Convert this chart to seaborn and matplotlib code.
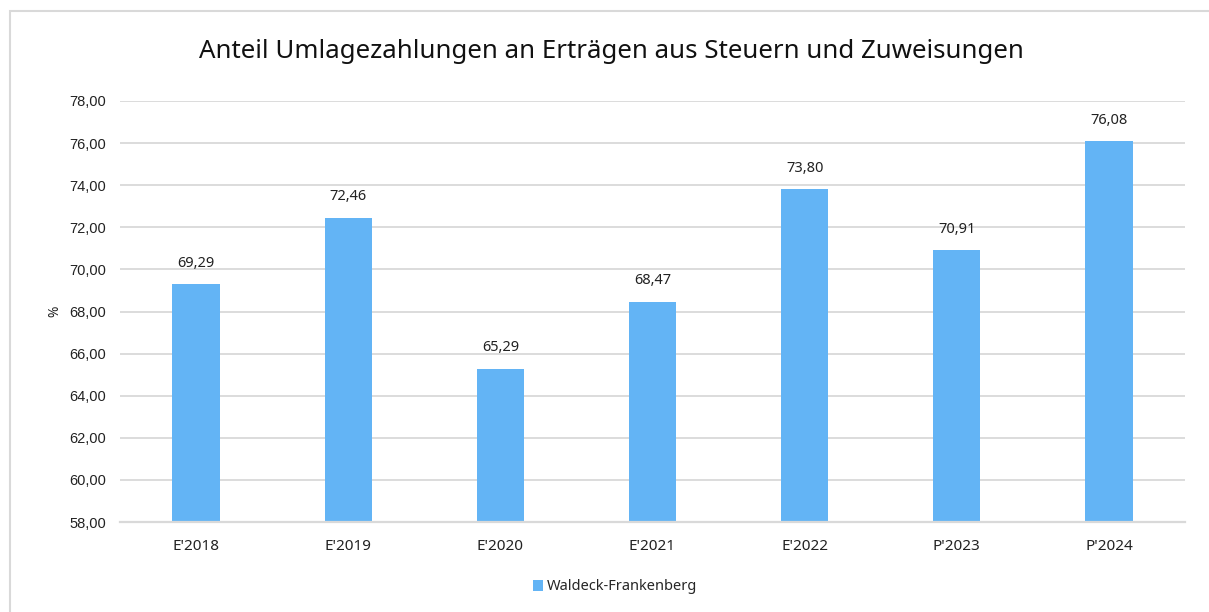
import matplotlib
matplotlib.use("Agg")
import matplotlib.pyplot as plt
import seaborn as sns
import pandas as pd
from matplotlib.patches import Rectangle
from matplotlib.ticker import FuncFormatter

categories = ["E'2018", "E'2019", "E'2020", "E'2021", "E'2022", "P'2023", "P'2024"]
values = [69.29, 72.46, 65.29, 68.47, 73.80, 70.91, 76.08]
series_name = "Waldeck-Frankenberg"

df = pd.DataFrame({"jahr": categories, "wert": values, "serie": series_name})

sns.set_theme(style="white")
plt.rcParams["font.family"] = ["Noto Sans", "DejaVu Sans"]

bar_color = "#63b4f5"
grid_color = "#d9d9d9"

fig = plt.figure(figsize=(12.09, 6.12), dpi=100)
ax = fig.add_axes([120 / 1209, 1 - 522 / 612, (1185 - 120) / 1209, (522 - 101) / 612])

sns.barplot(data=df, x="jahr", y="wert", hue="serie", palette=[bar_color],
            width=0.31, ax=ax, saturation=1, linewidth=0, legend=True)

ax.set_ylim(58, 78)
ax.set_yticks(range(58, 79, 2))
ax.yaxis.set_major_formatter(FuncFormatter(lambda v, p: f"{v:.2f}".replace(".", ",")))
ax.grid(axis="y", color=grid_color, linewidth=1.3)
ax.set_axisbelow(True)
for s in ["top", "right", "left"]:
    ax.spines[s].set_visible(False)
ax.spines["bottom"].set_color(grid_color)
ax.spines["bottom"].set_linewidth(1.6)
ax.tick_params(axis="both", length=0)
ax.tick_params(axis="x", pad=12, labelsize=11, labelcolor="#222222")
for lab in ax.get_yticklabels():
    lab.set_fontfamily("Liberation Sans")
    lab.set_fontsize(10.5)
    lab.set_color("#222222")
ax.tick_params(axis="y", pad=10)

ax.set_xlabel("")
ax.set_ylabel("")
fig.text(55 / 1209, 1 - 311 / 612, "%", rotation=90, ha="center", va="center",
         fontsize=10, color="#222222")

for i, v in enumerate(values):
    ax.text(i, v + 0.65, f"{v:.2f}".replace(".", ","), ha="center", va="bottom",
            fontsize=10.5, color="#222222")

fig.text(611 / 1209, 1 - 51 / 612, "Anteil Umlagezahlungen an Erträgen aus Steuern und Zuweisungen",
         ha="center", va="center", fontsize=18.6, color="#111111")

ax.legend(loc="center", bbox_to_anchor=(615 / 1209, 1 - 587 / 612), bbox_transform=fig.transFigure,
          frameon=False, fontsize=10.5, handlelength=0.7, handleheight=0.7, handletextpad=0.3)

fig.patches.append(Rectangle((10 / 1209, -0.1), 1.2, 1 - 11 / 612 + 0.1, transform=fig.transFigure,
                             fill=False, edgecolor="#d9d9d9", linewidth=1.5))

fig.savefig("out.png", dpi=100)
